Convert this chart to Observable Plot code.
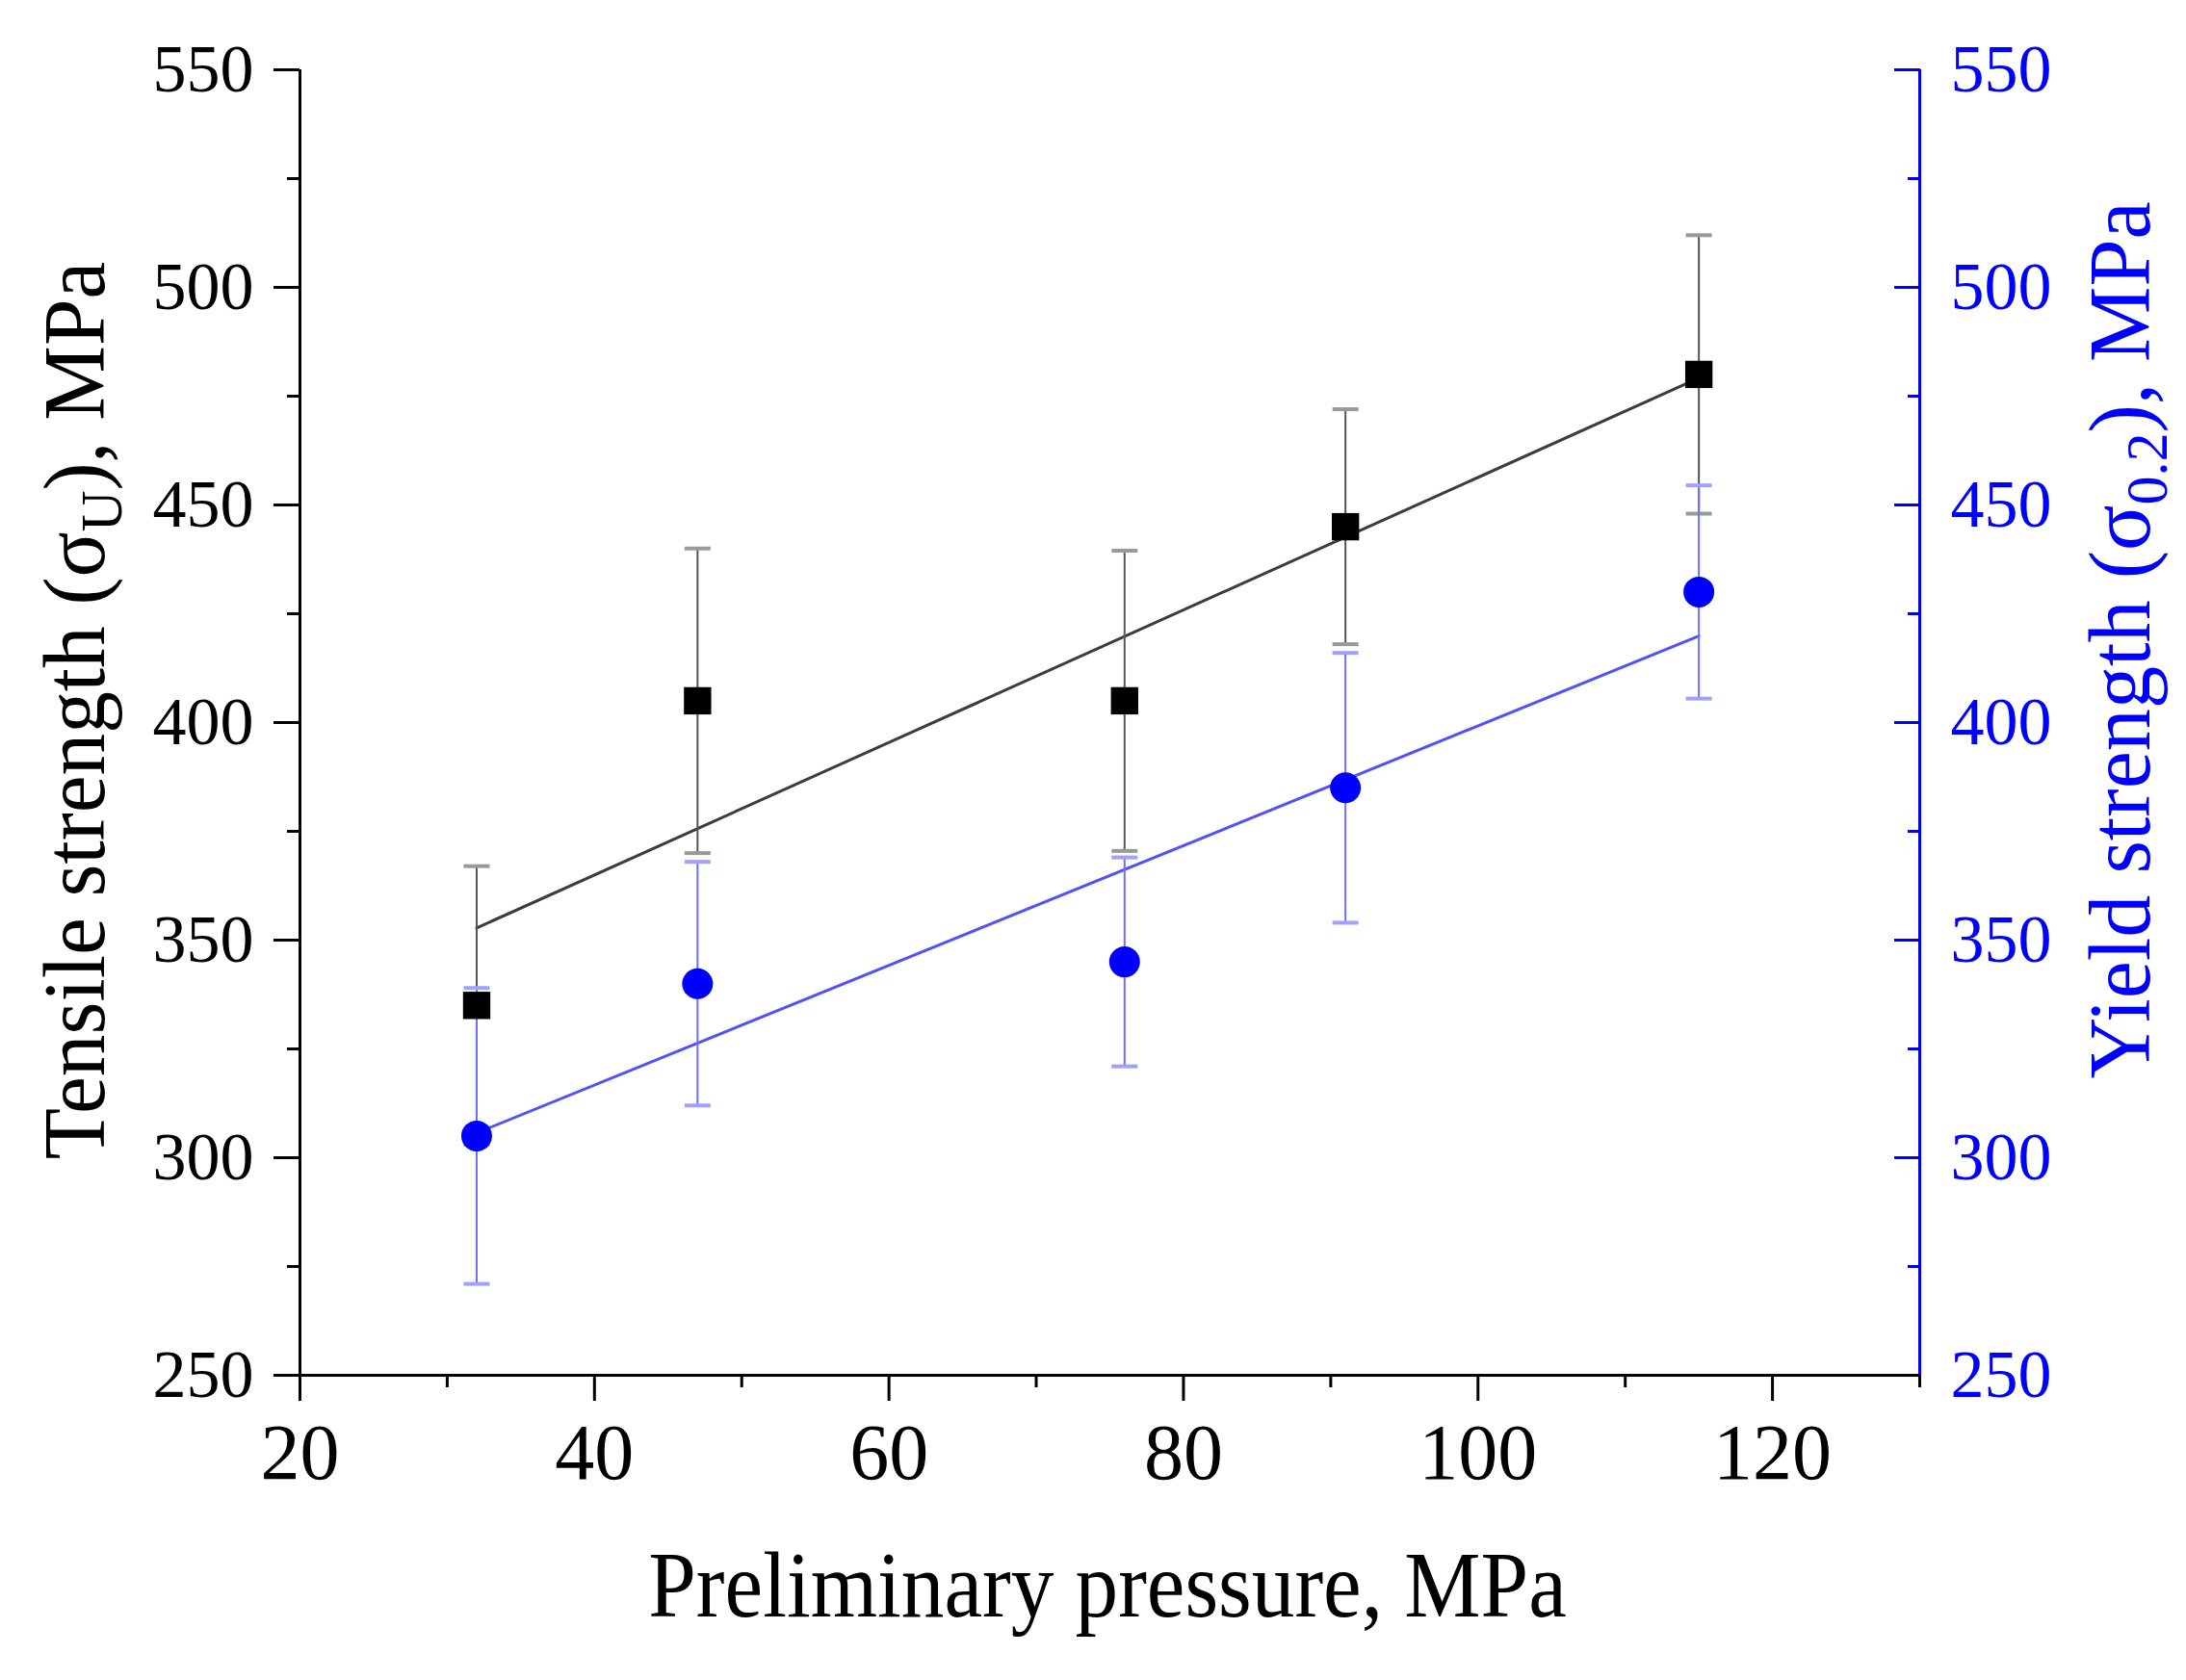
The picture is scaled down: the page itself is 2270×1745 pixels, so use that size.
<!DOCTYPE html>
<html>
<head>
<meta charset="utf-8">
<script src="https://cdn.jsdelivr.net/npm/d3@7"></script>
<script src="https://cdn.jsdelivr.net/npm/@observablehq/plot@0.6"></script>
<style>
  html, body { margin: 0; padding: 0; background: #fff; }
  svg { display: block; }
</style>
</head>
<body>
<div id="chart"></div>
<script>
const pressure = [32, 47, 76, 91, 115];
const tensile = [335, 405, 405, 445, 480];
const tensileErr = [32, 35, 34.5, 27, 32];
const yieldStrength = [305, 340, 345, 385, 430];
const yieldErr = [34, 28, 24, 31, 24.5];

const xTicks = [20, 40, 60, 80, 100, 120];
const xMinorTicks = [30, 50, 70, 90, 110, 130];
const yTicks = [250, 300, 350, 400, 450, 500, 550];
const yMinorTicks = [275, 325, 375, 425, 475, 525];

const xTitle = "Preliminary pressure, MPa";
const leftTitle = ["Tensile strength (σ", "U", "), MPa"];
const rightTitle = ["Yield strength (σ", "0.2", "), MPa"];

const tData = pressure.map((p, i) => ({x: p, v: tensile[i], e: tensileErr[i]}));
const yData = pressure.map((p, i) => ({x: p, v: yieldStrength[i], e: yieldErr[i]}));

const BLUE = "#0000ff";
const capSymbol = {
  draw(ctx, size) {
    const w = Math.sqrt(size / Math.PI);
    ctx.moveTo(-w, 0);
    ctx.lineTo(w, 0);
  }
};

const chart = Plot.plot({
  width: 2270,
  height: 1745,
  marginLeft: 311,
  marginRight: 277,
  marginTop: 72,
  marginBottom: 317,
  style: {fontFamily: "'Liberation Serif', 'Times New Roman', serif", background: "#fff"},
  x: {domain: [20, 130], axis: null},
  y: {domain: [250, 550], axis: null},
  marks: [
    // axes
    Plot.axisX(xTicks, {anchor: "bottom", tickSize: 27, tickPadding: 22, fontSize: 82, strokeWidth: 3, label: null, color: "#000"}),
    Plot.axisX(xMinorTicks, {anchor: "bottom", tickSize: 13, strokeWidth: 3, label: null, tickFormat: () => "", color: "#000"}),
    Plot.axisY(yTicks, {anchor: "left", tickSize: 27, tickPadding: 21, fontSize: 70, strokeWidth: 3, label: null, color: "#000"}),
    Plot.axisY(yMinorTicks, {anchor: "left", tickSize: 13, strokeWidth: 3, label: null, tickFormat: () => "", color: "#000"}),
    Plot.axisY(yTicks, {anchor: "right", tickSize: -27, tickPadding: 59, fontSize: 70, strokeWidth: 3, label: null, color: BLUE}),
    Plot.axisY(yMinorTicks, {anchor: "right", tickSize: -13, strokeWidth: 3, label: null, tickFormat: () => "", color: BLUE}),
    Plot.ruleX([20], {stroke: "#000", strokeWidth: 3}),
    Plot.ruleY([250], {stroke: "#000", strokeWidth: 3}),
    Plot.ruleX([130], {stroke: BLUE, strokeWidth: 3}),

    // regression lines
    Plot.linearRegressionY(tData, {x: "x", y: "v", ci: 0, stroke: "#3c3c3c", strokeWidth: 3}),
    Plot.linearRegressionY(yData, {x: "x", y: "v", ci: 0, stroke: "#5050ff", strokeWidth: 3}),

    // error bars
    Plot.ruleX(tData, {x: "x", y1: d => d.v - d.e, y2: d => d.v + d.e, stroke: "#555", strokeWidth: 2}),
    Plot.dot(tData, {x: "x", y: d => d.v + d.e, symbol: capSymbol, r: 13.5, fill: "none", stroke: "#999", strokeWidth: 4}),
    Plot.dot(tData, {x: "x", y: d => d.v - d.e, symbol: capSymbol, r: 13.5, fill: "none", stroke: "#999", strokeWidth: 4}),
    Plot.ruleX(yData, {x: "x", y1: d => d.v - d.e, y2: d => d.v + d.e, stroke: "#6e6eff", strokeWidth: 2}),
    Plot.dot(yData, {x: "x", y: d => d.v + d.e, symbol: capSymbol, r: 13.5, fill: "none", stroke: "#a0a0ff", strokeWidth: 4}),
    Plot.dot(yData, {x: "x", y: d => d.v - d.e, symbol: capSymbol, r: 13.5, fill: "none", stroke: "#a0a0ff", strokeWidth: 4}),

    // markers
    Plot.dot(tData, {x: "x", y: "v", symbol: "square", r: 16, fill: "#000", stroke: "none"}),
    Plot.dot(yData, {x: "x", y: "v", symbol: "circle", r: 16, fill: BLUE, stroke: "none"})
  ]
});

document.getElementById("chart").appendChild(chart);

// axis titles with subscripts
const svg = d3.select(chart);
const font = "'Liberation Serif', 'Times New Roman', serif";

function addTitle(parts, x, y, rotate, size, color, sx) {
  const t = svg.append("text")
    .attr("transform", `translate(${x},${y}) rotate(${rotate}) scale(${sx},1)`)
    .attr("text-anchor", "middle")
    .attr("font-family", font)
    .attr("font-size", size)
    .attr("fill", color);
  t.append("tspan").text(parts[0]);
  if (parts.length > 1) {
    const sub = size * 0.68;
    t.append("tspan").attr("font-size", sub).attr("dy", size * 0.2).text(parts[1]);
    t.append("tspan").attr("dy", -size * 0.2).text(parts[2]);
  }
}

addTitle(leftTitle, 108, 738, -90, 90, "#000", 0.97);
addTitle(rightTitle, 2232, 665, -90, 90, BLUE, 0.98);
addTitle([xTitle], 1150, 1679, 0, 98, "#000", 0.91);
</script>
</body>
</html>
